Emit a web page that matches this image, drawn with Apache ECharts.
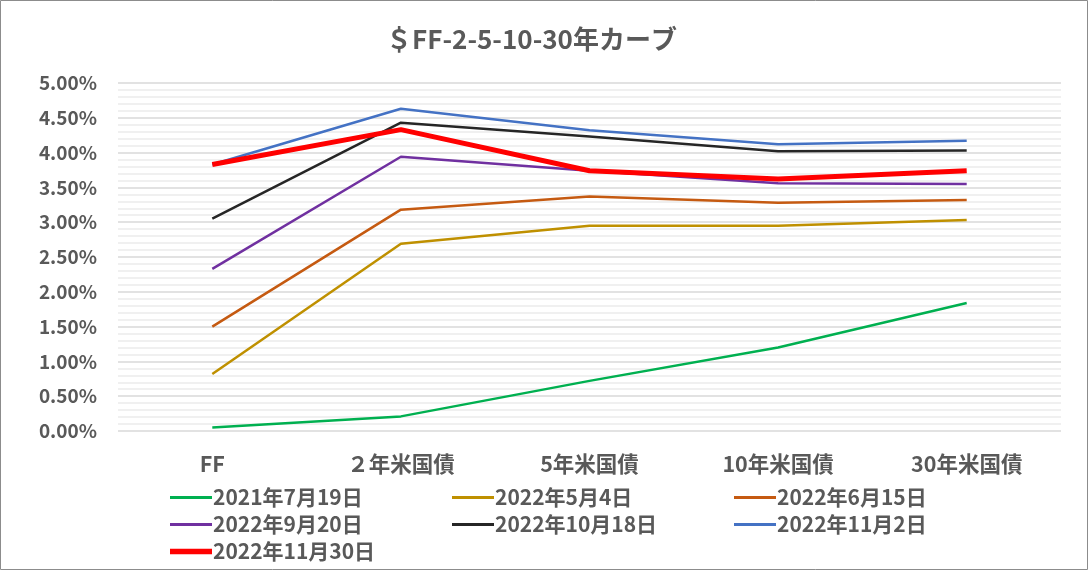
<!DOCTYPE html>
<html>
<head>
<meta charset="utf-8">
<script src="https://cdn.jsdelivr.net/npm/echarts@6/dist/echarts.min.js"></script>
<style>
html, body { margin: 0; padding: 0; background: #fff; }
#curve { width: 1090px; height: 571px; }
</style>
</head>
<body>
<div id="curve"></div>
<script>
// 満期区分
var maturities = ['FF', '２年米国債', '5年米国債', '10年米国債', '30年米国債'];
var yTicks = [0, 0.5, 1, 1.5, 2, 2.5, 3, 3.5, 4, 4.5, 5];

// 日付ごとの利回り(%)
var d20210719 = [0.05, 0.21, 0.72, 1.20, 1.84];
var d20220504 = [0.82, 2.69, 2.95, 2.95, 3.03];
var d20220615 = [1.50, 3.18, 3.37, 3.28, 3.32];
var d20220920 = [2.33, 3.94, 3.74, 3.56, 3.55];
var d20221018 = [3.05, 4.43, 4.23, 4.02, 4.03];
var d20221102 = [3.83, 4.63, 4.32, 4.12, 4.17];
var d20221130 = [3.83, 4.33, 3.74, 3.62, 3.74];

var names = ['2021年7月19日', '2022年5月4日', '2022年6月15日', '2022年9月20日',
             '2022年10月18日', '2022年11月2日', '2022年11月30日'];
var colors = ['#00b050', '#bf9000', '#c55a11', '#7030a0', '#262626', '#4472c4', '#ff0000'];
var widths = [2.5, 2.5, 2.5, 2.5, 2.5, 2.5, 5];
var values = [d20210719, d20220504, d20220615, d20220920, d20221018, d20221102, d20221130];

var FONT = '"Noto Sans CJK JP", "Noto Sans", sans-serif';
var GREY = '#595959';

var myChart = echarts.init(document.getElementById('curve'));

var series = [];
for (var i = 0; i < names.length; i++) {
    series.push({
        name: names[i],
        type: 'line',
        data: values[i],
        symbol: 'none',
        color: colors[i],
        lineStyle: { color: colors[i], width: widths[i] },
        z: i == 6 ? 10 : 2
    });
}

// 凡例アイコンは線の太さに合わせた横棒
function legendItem(idx) {
    var h = widths[idx] + 0.5;
    return {
        name: names[idx],
        icon: 'path://M0,0 L42,0 L42,' + h + ' L0,' + h + ' Z'
    };
}

function legendCol(items, left) {
    return {
        data: items.map(legendItem),
        orient: 'vertical',
        left: left,
        top: 482,
        itemWidth: 42,
        itemHeight: 20,
        itemGap: 6,
        symbolKeepAspect: true,
        itemStyle: { borderWidth: 0 },
        lineStyle: { width: 0 },
        textStyle: { color: GREY, fontSize: 21, fontWeight: 'bold', fontFamily: FONT, lineHeight: 20, padding: [0, 0, 0, -4] }
    };
}

var option = {
    animation: false,
    title: {
        text: '＄FF-2-5-10-30年カーブ',
        left: 381,
        top: 21,
        textStyle: { color: GREY, fontSize: 26, fontWeight: 'bold', fontFamily: FONT }
    },
    legend: [
        legendCol([0, 3, 6], 165),
        legendCol([1, 4], 447),
        legendCol([2, 5], 729)
    ],
    grid: { left: 118, right: 29, top: 83, bottom: 140 },
    xAxis: {
        type: 'category',
        data: maturities,
        boundaryGap: true,
        axisLine: { show: false },
        axisTick: { show: false },
        axisLabel: { color: GREY, fontSize: 21.5, fontWeight: 'bold', fontFamily: FONT, margin: 22 }
    },
    yAxis: {
        type: 'value',
        min: yTicks[0],
        max: yTicks[yTicks.length - 1],
        interval: 0.5,
        axisLine: { show: false },
        axisTick: { show: false },
        axisLabel: {
            color: GREY, fontSize: 19, fontWeight: 'bold', fontFamily: FONT, margin: 21,
            formatter: function (v) { return v.toFixed(2) + '%'; }
        },
        splitLine: { lineStyle: { color: '#d9d9d9', width: 1.5 } },
        minorTick: { show: false, splitNumber: 5 },
        minorSplitLine: { show: true, lineStyle: { color: '#ececec', width: 1.5 } }
    },
    graphic: [{
        type: 'rect',
        silent: true,
        shape: { x: 0.5, y: 0.5, width: 1087, height: 569 },
        style: { fill: 'none', stroke: '#8c8c8c', lineWidth: 1 }
    }],
    series: series
};

myChart.setOption(option);
</script>
</body>
</html>
